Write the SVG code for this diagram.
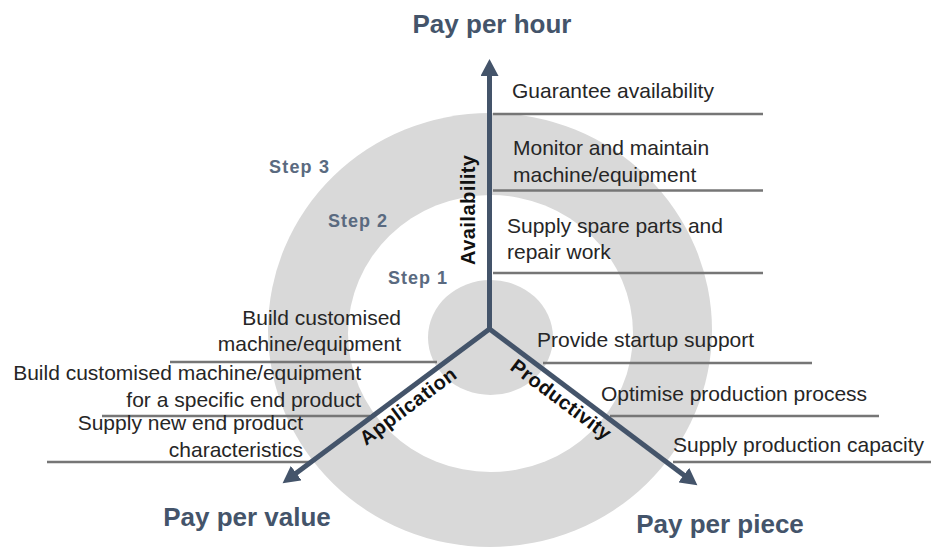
<svg xmlns="http://www.w3.org/2000/svg" width="931" height="548" viewBox="0 0 931 548">
<style>
.t{font-family:"Liberation Sans",Arial,sans-serif;font-size:21px;fill:#262626}
.title{font-family:"Liberation Sans",Arial,sans-serif;font-size:26px;font-weight:bold;fill:#44546a}
.step{font-family:"Liberation Sans",Arial,sans-serif;font-size:18px;font-weight:bold;fill:#5a6a80}
.axis{font-family:"Liberation Sans",Arial,sans-serif;font-size:20px;font-weight:bold;fill:#111}
.sep{stroke:#767676;stroke-width:2.5;fill:none}
.arr{stroke:#44546a;stroke-width:5;fill:none;marker-end:url(#ah)}
.ring{fill:#d9d9d9}
</style>
<defs>
<marker id="ah" markerUnits="userSpaceOnUse" viewBox="0 0 18 18" markerWidth="18" markerHeight="18" refX="4" refY="9" orient="auto">
<path d="M0,0 L17,9 L0,18 z" fill="#44546a"/>
</marker>
</defs>
<rect width="931" height="548" fill="#fff"/>
<g id="rings">
<ellipse class="ring" cx="490" cy="330" rx="222" ry="217"/>
<ellipse cx="490.5" cy="333.5" rx="142.5" ry="138.5" fill="#fff"/>
<ellipse class="ring" cx="490.5" cy="337.5" rx="62.5" ry="57.5"/>
</g>
<g id="separators">
<line class="sep" x1="493" y1="114" x2="763" y2="114"/>
<line class="sep" x1="493" y1="190.5" x2="763" y2="190.5"/>
<line class="sep" x1="493" y1="273" x2="763" y2="273"/>
<line class="sep" x1="543" y1="363" x2="812" y2="363"/>
<line class="sep" x1="610" y1="416" x2="879" y2="416"/>
<line class="sep" x1="673" y1="462" x2="931" y2="462"/>
<line class="sep" x1="170" y1="362" x2="437" y2="362"/>
<line class="sep" x1="102" y1="416" x2="370" y2="416"/>
<line class="sep" x1="47" y1="462" x2="310" y2="462"/>
</g>
<g id="connectors">
<line class="arr" x1="489.5" y1="331" x2="489.5" y2="72"/>
<line class="arr" x1="489.5" y1="329" x2="293" y2="475.5"/>
<line class="arr" x1="489.5" y1="329" x2="687" y2="477.5"/>
</g>
<g id="title-hour"><text class="title" x="492" y="33" text-anchor="middle">Pay per hour</text></g>
<g id="title-value"><text class="title" x="247" y="526" text-anchor="middle">Pay per value</text></g>
<g id="title-piece"><text class="title" x="720" y="533" text-anchor="middle">Pay per piece</text></g>
<g id="step3"><text class="step" x="269" y="173" textLength="60">Step 3</text></g>
<g id="step2"><text class="step" x="328" y="227" textLength="59">Step 2</text></g>
<g id="step1"><text class="step" x="388" y="284" textLength="59">Step 1</text></g>
<g id="axis-availability"><text class="axis" transform="translate(475,210) rotate(-90)" text-anchor="middle" textLength="110">Availability</text></g>
<g id="axis-application"><text class="axis" transform="translate(412,411.5) rotate(-36.8)" text-anchor="middle" textLength="115">Application</text></g>
<g id="axis-productivity"><text class="axis" transform="translate(557,405) rotate(36.9)" text-anchor="middle" textLength="120">Productivity</text></g>
<g id="n-guarantee"><text class="t" x="512" y="98">Guarantee availability</text></g>
<g id="n-monitor"><text class="t" x="513" y="155">Monitor and maintain</text><text class="t" x="513" y="182">machine/equipment</text></g>
<g id="n-spare"><text class="t" x="507" y="233">Supply spare parts and</text><text class="t" x="507" y="259">repair work</text></g>
<g id="n-startup"><text class="t" x="537" y="347">Provide startup support</text></g>
<g id="n-optimise"><text class="t" x="601" y="401">Optimise production process</text></g>
<g id="n-capacity"><text class="t" x="673" y="452">Supply production capacity</text></g>
<g id="n-build"><text class="t" x="401" y="325" text-anchor="end">Build customised</text><text class="t" x="401" y="351" text-anchor="end">machine/equipment</text></g>
<g id="n-build-specific"><text class="t" x="361" y="380" text-anchor="end">Build customised machine/equipment</text><text class="t" x="361" y="407" text-anchor="end">for a specific end product</text></g>
<g id="n-new-product"><text class="t" x="303" y="430" text-anchor="end">Supply new end product</text><text class="t" x="303" y="457" text-anchor="end">characteristics</text></g>
</svg>
